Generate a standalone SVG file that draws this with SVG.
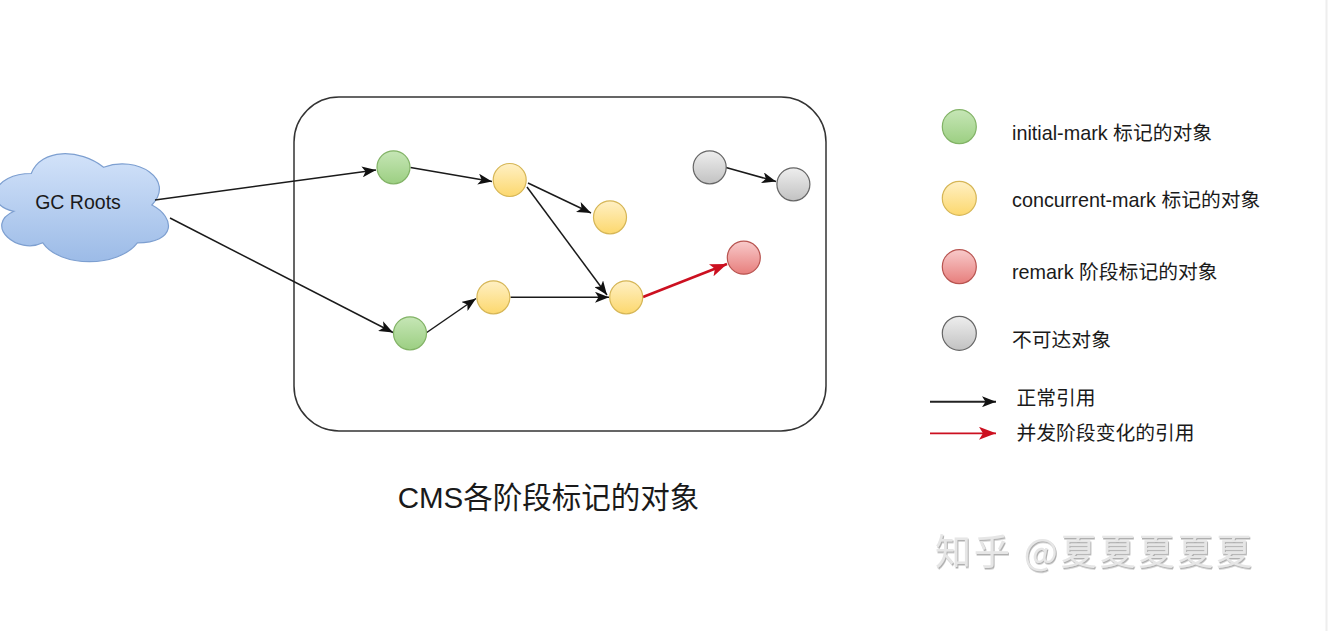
<svg xmlns="http://www.w3.org/2000/svg" width="1328" height="631" viewBox="0 0 1328 631">
<style>
.t{font-family:"Liberation Sans","Noto Sans CJK SC",sans-serif;fill:#1a1a1a}
.lt{font-size:19.8px}
.edge{stroke:#1a1a1a;stroke-width:1.5;fill:none}
.red{stroke:#cc1020;stroke-width:2.5;fill:none}
.g{fill:url(#gG);stroke:#82b366;stroke-width:1.2}
.y{fill:url(#gY);stroke:#d6b656;stroke-width:1.2}
.r{fill:url(#gR);stroke:#b85450;stroke-width:1.2}
.k{fill:url(#gK);stroke:#666;stroke-width:1.2}
</style>
<defs>
<linearGradient id="gG" x1="0" y1="0" x2="0" y2="1"><stop offset="0" stop-color="#c6e6b6"/><stop offset="1" stop-color="#9ccf82"/></linearGradient>
<linearGradient id="gY" x1="0" y1="0" x2="0" y2="1"><stop offset="0" stop-color="#fff0c4"/><stop offset="1" stop-color="#fcd86e"/></linearGradient>
<linearGradient id="gR" x1="0" y1="0" x2="0" y2="1"><stop offset="0" stop-color="#f8caca"/><stop offset="1" stop-color="#e77e7c"/></linearGradient>
<linearGradient id="gK" x1="0" y1="0" x2="0" y2="1"><stop offset="0" stop-color="#eeeeee"/><stop offset="1" stop-color="#c2c2c2"/></linearGradient>
<linearGradient id="gC" x1="0" y1="0" x2="0" y2="1"><stop offset="0" stop-color="#d2e2f9"/><stop offset="1" stop-color="#9cbbe7"/></linearGradient>
<marker id="ab" markerUnits="userSpaceOnUse" markerWidth="14" markerHeight="11" viewBox="0 0 14 11" refX="14" refY="5.5" orient="auto"><path d="M0,0 L14,5.5 L0,11 L3.5,5.5 Z" fill="#111"/></marker>
<marker id="ar" markerUnits="userSpaceOnUse" markerWidth="17" markerHeight="13" viewBox="0 0 17 13" refX="17" refY="6.5" orient="auto"><path d="M0,0 L17,6.5 L0,13 L4,6.5 Z" fill="#cc1020"/></marker>
<filter id="emb" x="-5%" y="-20%" width="110%" height="140%"><feDropShadow dx="1" dy="1.5" stdDeviation="0.6" flood-color="#a8a8a8" flood-opacity="0.9"/></filter>
</defs>
<rect width="1328" height="631" fill="#ffffff"/>
<line x1="1326.5" y1="0" x2="1326.5" y2="631" stroke="#eeeeee" stroke-width="2"/>

<g id="heap-box"><rect x="294" y="97" width="532" height="334" rx="45" fill="none" stroke="#333" stroke-width="1.5"/></g>

<g id="gc-roots">
<path d="M31.25,173.5 C-7.35,173.5 -17,205 13.9,211.3 C-17,225.2 17.7,255.4 42.8,242.8 C60.2,268 118.1,268 137.4,242.8 C176,242.8 176,217.6 151.9,205 C176,179.8 137.4,154.6 103.6,167.2 C79.5,148.3 40.9,148.3 31.25,173.5 Z" fill="url(#gC)" stroke="#7d9fd0" stroke-width="1.2"/>
<text class="t" x="78" y="208.5" font-size="19.5" text-anchor="middle">GC Roots</text>
</g>

<g id="connectors">
<line class="edge" x1="155" y1="200" x2="376" y2="170" marker-end="url(#ab)"/>
<line class="edge" x1="170" y1="218" x2="393" y2="332.5" marker-end="url(#ab)"/>
<line class="edge" x1="410.5" y1="167.5" x2="492" y2="181.5" marker-end="url(#ab)"/>
<line class="edge" x1="528" y1="183" x2="591" y2="213" marker-end="url(#ab)"/>
<line class="edge" x1="527" y1="187" x2="607" y2="295" marker-end="url(#ab)"/>
<line class="edge" x1="510.5" y1="297.3" x2="609" y2="297.3" marker-end="url(#ab)"/>
<line class="edge" x1="426" y1="333" x2="476" y2="298.5" marker-end="url(#ab)"/>
<line class="edge" x1="726" y1="167.5" x2="776" y2="181.5" marker-end="url(#ab)"/>
<line class="red" x1="643" y1="297" x2="727" y2="264" marker-end="url(#ar)"/>
</g>

<g id="n-green1"><circle class="g" cx="393.5" cy="167.3" r="16.5"/></g>
<g id="n-yellow1"><circle class="y" cx="509.7" cy="180" r="16.5"/></g>
<g id="n-yellow2"><circle class="y" cx="610" cy="217.3" r="16.5"/></g>
<g id="n-gray1"><circle class="k" cx="709.7" cy="167.3" r="16.5"/></g>
<g id="n-gray2"><circle class="k" cx="793.4" cy="184.3" r="16.5"/></g>
<g id="n-red"><circle class="r" cx="743.8" cy="257.7" r="16.5"/></g>
<g id="n-yellow4"><circle class="y" cx="626.2" cy="297.3" r="16.5"/></g>
<g id="n-yellow3"><circle class="y" cx="493.4" cy="297.3" r="16.5"/></g>
<g id="n-green2"><circle class="g" cx="410" cy="333.3" r="16.5"/></g>

<g id="legend">
<g id="lg-green"><circle class="g" cx="959.3" cy="126.7" r="17"/><text class="t lt" x="1012" y="140">initial-mark 标记的对象</text></g>
<g id="lg-yellow"><circle class="y" cx="959.3" cy="198.3" r="17"/><text class="t lt" x="1012" y="207">concurrent-mark 标记的对象</text></g>
<g id="lg-red"><circle class="r" cx="959.3" cy="266.7" r="17"/><text class="t lt" x="1012" y="279">remark 阶段标记的对象</text></g>
<g id="lg-gray"><circle class="k" cx="959.3" cy="333.3" r="17"/><text class="t lt" x="1012" y="347">不可达对象</text></g>
<g id="lg-normal"><line x1="930" y1="401.7" x2="996" y2="401.7" stroke="#222" stroke-width="2" marker-end="url(#ab)"/><text class="t lt" x="1016.5" y="405">正常引用</text></g>
<g id="lg-changed"><line x1="930" y1="433.3" x2="996" y2="433.3" stroke="#cc1020" stroke-width="1.8" marker-end="url(#ar)"/><text class="t lt" x="1016.5" y="440">并发阶段变化的引用</text></g>
</g>

<text class="t" x="548.5" y="508" font-size="29.5" text-anchor="middle">CMS各阶段标记的对象</text>

<text x="935" y="565" font-size="36" textLength="317" lengthAdjust="spacing" style="font-family:'Noto Sans CJK SC',sans-serif;fill:#e6e6e6" filter="url(#emb)">知乎 @夏夏夏夏夏</text>
</svg>
